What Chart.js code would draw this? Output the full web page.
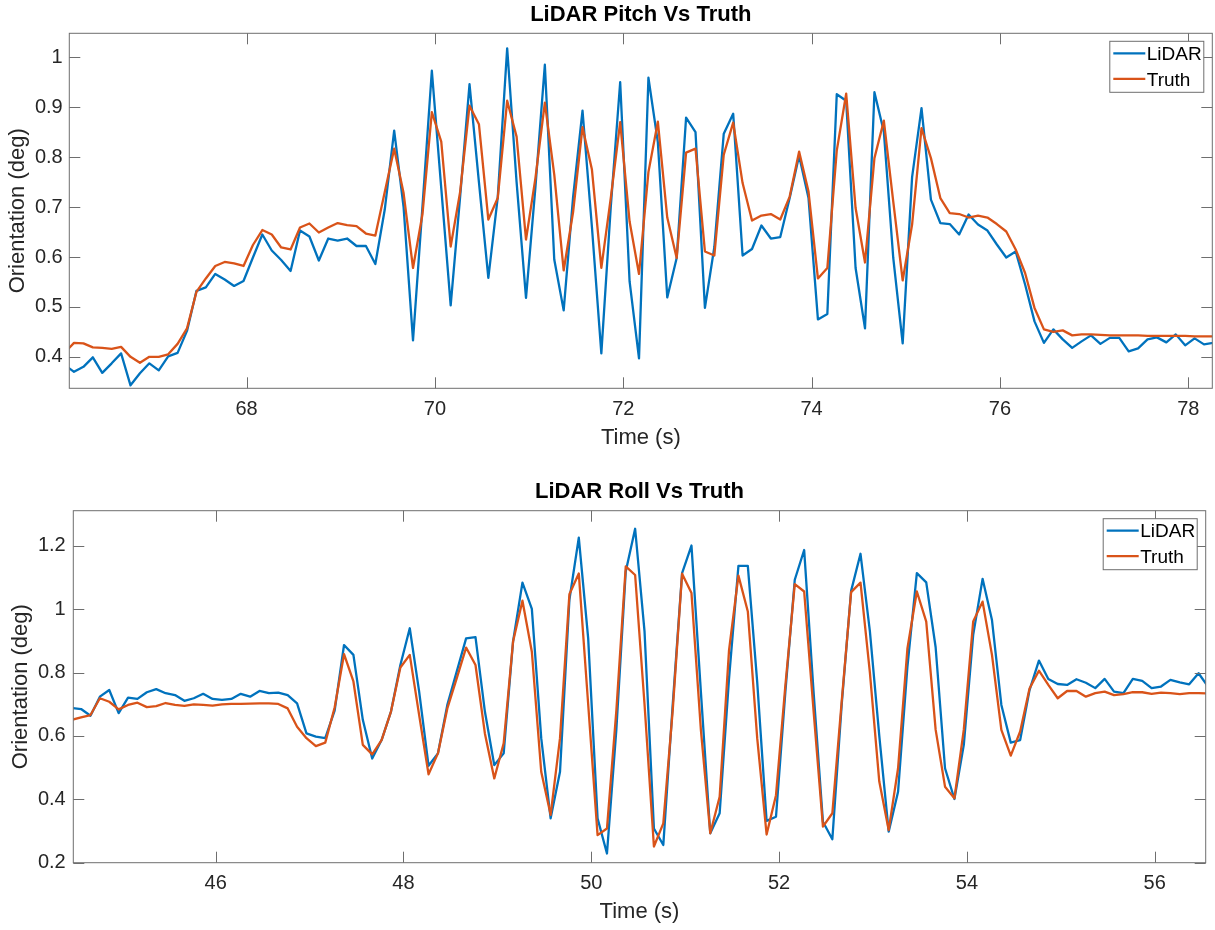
<!DOCTYPE html>
<html>
<head>
<meta charset="utf-8">
<title>LiDAR vs Truth</title>
<script src="https://cdn.jsdelivr.net/npm/chart.js@4.4.0/dist/chart.umd.min.js"></script>
<style>
  html, body { margin: 0; padding: 0; background: #fff; }
  #wrap { position: relative; width: 1215px; height: 930px; }
  .panel { position: absolute; left: 0; width: 1215px; height: 465px; }
</style>
</head>
<body>
<div id="wrap">
  <div class="panel" style="top:0"><canvas id="pitchChart" width="1215" height="465"></canvas></div>
  <div class="panel" style="top:465px"><canvas id="rollChart" width="1215" height="465"></canvas></div>
</div>
<script>
const FONT = '"Liberation Sans", Arial, Helvetica, sans-serif';
const TEXT = '#262626';
const AXIS = '#6e6e6e';
const LIDAR_COLOR = '#0072bd';
const TRUTH_COLOR = '#d95319';

const samplePeriod = 0.1; // both logs are 10 Hz

// pitch run (deg)
const pitchStart = 66.067;
const pitchLidar = [
  0.384, 0.370, 0.380, 0.399, 0.368, 0.387, 0.407, 0.343, 0.367, 0.387,
  0.373, 0.401, 0.408, 0.452, 0.532, 0.539, 0.566, 0.555, 0.542, 0.552,
  0.599, 0.645, 0.613, 0.594, 0.572, 0.653, 0.641, 0.593, 0.637, 0.633,
  0.637, 0.622, 0.622, 0.586, 0.695, 0.853, 0.700, 0.433, 0.700, 0.973,
  0.738, 0.503, 0.720, 0.946, 0.750, 0.558, 0.720, 1.018, 0.750, 0.518,
  0.740, 0.985, 0.595, 0.493, 0.720, 0.893, 0.660, 0.407, 0.700, 0.950,
  0.551, 0.397, 0.959, 0.830, 0.519, 0.598, 0.879, 0.850, 0.498, 0.620,
  0.847, 0.887, 0.603, 0.616, 0.663, 0.637, 0.640, 0.718, 0.803, 0.718,
  0.475, 0.486, 0.926, 0.913, 0.578, 0.457, 0.930, 0.851, 0.598, 0.427,
  0.760, 0.898, 0.715, 0.668, 0.666, 0.645, 0.685, 0.665, 0.653, 0.625,
  0.599, 0.611, 0.545, 0.471, 0.428, 0.455, 0.435, 0.418, 0.431, 0.443,
  0.426, 0.438, 0.438, 0.411, 0.417, 0.435, 0.439, 0.429, 0.445, 0.423,
  0.437, 0.425, 0.428
];
const pitchTruth = [
  0.408, 0.428, 0.427, 0.419, 0.418, 0.416, 0.420, 0.400, 0.388, 0.400,
  0.400, 0.405, 0.426, 0.457, 0.530, 0.557, 0.582, 0.590, 0.587, 0.582,
  0.624, 0.654, 0.645, 0.619, 0.615, 0.659, 0.667, 0.649, 0.659, 0.668,
  0.664, 0.662, 0.647, 0.643, 0.730, 0.817, 0.728, 0.578, 0.685, 0.890,
  0.831, 0.621, 0.730, 0.903, 0.866, 0.675, 0.718, 0.913, 0.841, 0.635,
  0.758, 0.909, 0.765, 0.573, 0.690, 0.860, 0.775, 0.578, 0.718, 0.870,
  0.671, 0.566, 0.770, 0.871, 0.679, 0.598, 0.809, 0.817, 0.611, 0.603,
  0.805, 0.869, 0.748, 0.673, 0.683, 0.686, 0.675, 0.721, 0.811, 0.731,
  0.557, 0.578, 0.813, 0.927, 0.698, 0.589, 0.798, 0.873, 0.711, 0.553,
  0.665, 0.858, 0.798, 0.718, 0.688, 0.686, 0.679, 0.683, 0.679, 0.666,
  0.651, 0.615, 0.568, 0.498, 0.455, 0.450, 0.453, 0.443, 0.445, 0.445,
  0.444, 0.443, 0.443, 0.443, 0.443, 0.442, 0.442, 0.442, 0.442, 0.442,
  0.441, 0.441, 0.441
];
const pitchXLim = [66.117, 78.255];
const pitchYLim = [0.337, 1.048];
const pitchXTicks = [68, 70, 72, 74, 76, 78];
const pitchYTicks = [0.4, 0.5, 0.6, 0.7, 0.8, 0.9, 1];

// roll run (deg)
const rollStart = 44.467;
const rollLidar = [
  0.688, 0.685, 0.664, 0.724, 0.745, 0.672, 0.721, 0.717, 0.738, 0.748,
  0.735, 0.729, 0.711, 0.719, 0.733, 0.717, 0.714, 0.717, 0.733, 0.724,
  0.742, 0.735, 0.737, 0.729, 0.703, 0.608, 0.598, 0.593, 0.680, 0.887,
  0.856, 0.651, 0.529, 0.587, 0.677, 0.824, 0.940, 0.740, 0.506, 0.545,
  0.698, 0.803, 0.908, 0.912, 0.677, 0.508, 0.545, 0.898, 1.084, 1.001,
  0.593, 0.340, 0.487, 1.030, 1.226, 0.908, 0.340, 0.229, 0.620, 1.119,
  1.254, 0.930, 0.308, 0.256, 0.698, 1.114, 1.201, 0.740, 0.293, 0.356,
  0.782, 1.137, 1.137, 0.770, 0.332, 0.345, 0.740, 1.093, 1.187, 0.740,
  0.329, 0.274, 0.700, 1.058, 1.175, 0.930, 0.600, 0.298, 0.424, 0.820,
  1.114, 1.085, 0.880, 0.498, 0.401, 0.572, 0.919, 1.096, 0.966, 0.698,
  0.579, 0.587, 0.745, 0.838, 0.780, 0.764, 0.761, 0.779, 0.768, 0.751,
  0.780, 0.740, 0.735, 0.780, 0.774, 0.751, 0.756, 0.777, 0.769, 0.763,
  0.798, 0.756
];
const rollTruth = [
  0.651, 0.659, 0.666, 0.719, 0.708, 0.684, 0.698, 0.705, 0.691, 0.694,
  0.704, 0.698, 0.695, 0.700, 0.698, 0.696, 0.700, 0.701, 0.701, 0.702,
  0.703, 0.703, 0.701, 0.687, 0.629, 0.593, 0.568, 0.579, 0.690, 0.858,
  0.772, 0.572, 0.542, 0.587, 0.677, 0.816, 0.856, 0.666, 0.479, 0.545,
  0.687, 0.782, 0.879, 0.824, 0.608, 0.466, 0.577, 0.898, 1.027, 0.866,
  0.487, 0.351, 0.593, 1.047, 1.113, 0.700, 0.287, 0.308, 0.680, 1.135,
  1.108, 0.700, 0.251, 0.324, 0.680, 1.112, 1.051, 0.620, 0.293, 0.408,
  0.871, 1.106, 0.993, 0.593, 0.289, 0.413, 0.760, 1.079, 1.056, 0.680,
  0.314, 0.356, 0.710, 1.054, 1.084, 0.800, 0.456, 0.303, 0.498, 0.877,
  1.056, 0.961, 0.620, 0.440, 0.403, 0.620, 0.961, 1.024, 0.856, 0.619,
  0.538, 0.614, 0.750, 0.806, 0.761, 0.719, 0.742, 0.742, 0.724, 0.735,
  0.740, 0.729, 0.732, 0.738, 0.738, 0.733, 0.737, 0.735, 0.732, 0.735,
  0.735, 0.734
];
const rollXLim = [44.484, 56.543];
const rollYLim = [0.2, 1.311];
const rollXTicks = [46, 48, 50, 52, 54, 56];
const rollYTicks = [0.2, 0.4, 0.6, 0.8, 1, 1.2];

function toPoints(start, values) {
  return values.map((v, i) => ({ x: start + i * samplePeriod, y: v }));
}

// box, inward ticks on all four sides, boxed legend and the bold title
const matlabAxes = {
  id: 'matlabAxes',
  afterDatasetsDraw(chart, args, opts) {
    const { ctx, chartArea: a } = chart;
    const xs = chart.scales.x, ys = chart.scales.y;
    const tl = 11;
    ctx.save();
    ctx.strokeStyle = AXIS;
    ctx.lineWidth = 1;
    ctx.beginPath();
    xs.ticks.forEach(t => {
      const px = Math.round(xs.getPixelForValue(t.value)) + 0.5;
      ctx.moveTo(px, a.bottom); ctx.lineTo(px, a.bottom - tl);
      ctx.moveTo(px, a.top); ctx.lineTo(px, a.top + tl);
    });
    ys.ticks.forEach(t => {
      const py = Math.round(ys.getPixelForValue(t.value)) + 0.5;
      ctx.moveTo(a.left, py); ctx.lineTo(a.left + tl, py);
      ctx.moveTo(a.right, py); ctx.lineTo(a.right - tl, py);
    });
    ctx.stroke();
    ctx.strokeRect(a.left, a.top, a.right - a.left, a.bottom - a.top);

    // legend
    const w = 94, h = 51;
    const bx = a.right - 8.5 - w, by = a.top + 8;
    ctx.fillStyle = '#fff';
    ctx.fillRect(bx, by, w, h);
    ctx.strokeRect(bx, by, w, h);
    ctx.font = '19px ' + FONT;
    ctx.textAlign = 'left';
    ctx.textBaseline = 'middle';
    chart.data.datasets.forEach((ds, k) => {
      const ry = by + 12 + k * 25.5;
      ctx.strokeStyle = ds.borderColor;
      ctx.lineWidth = 2.3;
      ctx.beginPath();
      ctx.moveTo(bx + 3.5, ry); ctx.lineTo(bx + 35.5, ry);
      ctx.stroke();
      ctx.fillStyle = '#000';
      ctx.fillText(ds.label, bx + 37, ry + 1.5);
    });

    // title over the axes
    ctx.fillStyle = '#000';
    ctx.font = 'bold 22px ' + FONT;
    ctx.textAlign = 'center';
    ctx.fillText(opts.text, (a.left + a.right) / 2, opts.y);
    ctx.restore();
  }
};

function makeChart(id, cfg) {
  const lineStyle = {
    pointRadius: 0,
    borderWidth: 2.3,
    tension: 0,
    borderJoinStyle: 'round',
    fill: false
  };
  return new Chart(document.getElementById(id), {
    type: 'line',
    data: {
      datasets: [
        Object.assign({ label: 'LiDAR', data: toPoints(cfg.start, cfg.lidar), borderColor: LIDAR_COLOR, order: 1 }, lineStyle),
        Object.assign({ label: 'Truth', data: toPoints(cfg.start, cfg.truth), borderColor: TRUTH_COLOR, order: 0 }, lineStyle)
      ]
    },
    options: {
      responsive: false,
      animation: false,
      devicePixelRatio: 1,
      layout: { padding: { top: cfg.areaTop, right: cfg.padRight, left: 0, bottom: 0 } },
      plugins: {
        legend: { display: false },
        tooltip: { enabled: false },
        matlabAxes: { text: cfg.title, y: cfg.titleY }
      },
      scales: {
        x: {
          type: 'linear',
          min: cfg.xLim[0],
          max: cfg.xLim[1],
          afterBuildTicks: s => { s.ticks = cfg.xTicks.map(v => ({ value: v })); },
          afterFit: s => { s.height = cfg.xAxisHeight; },
          grid: { display: false, drawTicks: false },
          border: { display: false },
          ticks: {
            color: TEXT, font: { family: FONT, size: 20 }, padding: cfg.xTickPad,
            maxRotation: 0, autoSkip: false, callback: v => String(v)
          },
          title: {
            display: true, text: 'Time (s)', color: TEXT,
            font: { family: FONT, size: 22 }, padding: { top: 0, bottom: cfg.xTitlePad }
          }
        },
        y: {
          type: 'linear',
          min: cfg.yLim[0],
          max: cfg.yLim[1],
          afterBuildTicks: s => { s.ticks = cfg.yTicks.map(v => ({ value: v })); },
          afterFit: s => { s.width = cfg.yAxisWidth; },
          grid: { display: false, drawTicks: false },
          border: { display: false },
          ticks: {
            color: TEXT, font: { family: FONT, size: 20 }, padding: cfg.yTickPad,
            autoSkip: false, callback: v => String(v)
          },
          title: {
            display: true, text: 'Orientation (deg)', color: TEXT,
            font: { family: FONT, size: 22 }, padding: { top: cfg.yTitlePad, bottom: 0 }
          }
        }
      }
    },
    plugins: [matlabAxes]
  });
}

makeChart('pitchChart', {
  title: 'LiDAR Pitch Vs Truth', titleY: 15,
  start: pitchStart, lidar: pitchLidar, truth: pitchTruth,
  xLim: pitchXLim, yLim: pitchYLim, xTicks: pitchXTicks, yTicks: pitchYTicks,
  areaTop: 33.3, padRight: 2.7, xAxisHeight: 76.7, yAxisWidth: 69.3,
  xTickPad: 9.4, yTickPad: 6.6, xTitlePad: 13.8, yTitlePad: 4.3
});

makeChart('rollChart', {
  title: 'LiDAR Roll Vs Truth', titleY: 27,
  start: rollStart, lidar: rollLidar, truth: rollTruth,
  xLim: rollXLim, yLim: rollYLim, xTicks: rollXTicks, yTicks: rollYTicks,
  areaTop: 45.7, padRight: 9.3, xAxisHeight: 67.3, yAxisWidth: 73.3,
  xTickPad: 8.6, yTickPad: 7.6, xTitlePad: 4.8, yTitlePad: 8.1
});
</script>
</body>
</html>
